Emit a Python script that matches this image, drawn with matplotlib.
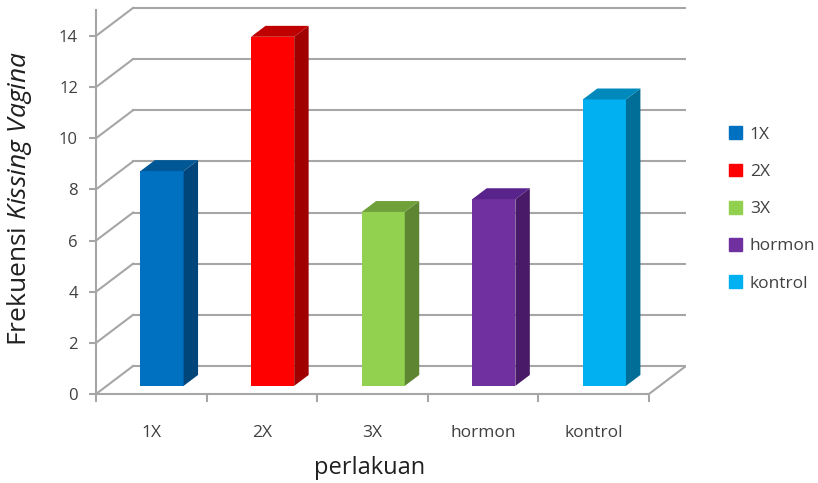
import matplotlib
matplotlib.use("Agg")
import matplotlib.pyplot as plt
from matplotlib.patches import Polygon, Patch
import numpy as np

plt.rcParams['font.family'] = ['Open Sans', 'DejaVu Sans']
plt.rcParams['mathtext.fontset'] = 'custom'
plt.rcParams['mathtext.rm'] = 'Open Sans'
plt.rcParams['mathtext.it'] = 'Open Sans:italic'

# data
categories = ['1X', '2X', '3X', 'hormon', 'kontrol']
values = [8.4, 13.65, 6.8, 7.3, 11.2]
front_colors = ['#0070C0', '#FF0000', '#92D050', '#7030A0', '#00B0F0']
side_colors = ['#00467A', '#A00000', '#5E8532', '#481A68', '#006E96']
top_colors = ['#005796', '#C00000', '#6FA03A', '#58238A', '#0089BC']
yticks = [0, 2, 4, 6, 8, 10, 12, 14]

# depth of the fake 3d box, in data units
D = 0.335
DY = 1.095
f0, f1 = 0.29, 0.68
bw = 0.39
grid_c = '#A6A6A6'
txt_c = '#404040'

fig = plt.figure(figsize=(8.18, 4.83), dpi=100)
ax = fig.add_axes([96/818, 89/483, 590/818, 389/483])
ax.set_xlim(-0.5, 4.5 + D)
ax.set_ylim(0, 15.21)

# back wall gridlines + side wall diagonals
for v in yticks:
    ax.plot([-0.5 + D, 4.5 + D], [v + DY, v + DY], color=grid_c, lw=1.5, zorder=1)
    ax.plot([-0.5, -0.5 + D], [v, v + DY], color=grid_c, lw=1.5, zorder=1)
# floor right edge
ax.plot([4.5, 4.5 + D], [0, DY], color=grid_c, lw=1.5, zorder=1)

x = np.arange(len(categories))
b = f0 * DY
dd = f1 - f0
ax.bar(x + f0 * D, values, width=bw, bottom=b, color=front_colors, zorder=3)
for i, v in enumerate(values):
    xl = x[i] + f0 * D - bw / 2
    xr = xl + bw
    side = [(xr, b), (xr + dd * D, b + dd * DY), (xr + dd * D, b + dd * DY + v), (xr, b + v)]
    top = [(xl, b + v), (xr, b + v), (xr + dd * D, b + v + dd * DY), (xl + dd * D, b + v + dd * DY)]
    ax.add_patch(Polygon(side, closed=True, color=side_colors[i], zorder=3, lw=0))
    ax.add_patch(Polygon(top, closed=True, color=top_colors[i], zorder=3, lw=0))

# axes styling
for s in ['top', 'right']:
    ax.spines[s].set_visible(False)
ax.spines['left'].set_bounds(0, 15.0)
ax.spines['bottom'].set_bounds(-0.5, 4.5)
for s in ['left', 'bottom']:
    ax.spines[s].set_color(grid_c)
    ax.spines[s].set_linewidth(1.5)

ax.set_yticks(yticks)
ax.tick_params(axis='y', length=5, width=1.5, color=grid_c, labelsize=12,
               labelcolor=txt_c, pad=8)
ax.set_xticks(x)
ax.set_xticklabels(categories)
ax.set_xticks(np.arange(-0.5, 5, 1), minor=True)
ax.tick_params(axis='x', which='major', length=0, labelsize=12.5, labelcolor=txt_c, pad=22)
ax.tick_params(axis='x', which='minor', length=6, width=1.5, color=grid_c)

ax.set_ylabel(r"Frekuensi $Kissing\ Vagina$", fontsize=19, color='#202020')
ax.yaxis.set_label_coords(-62/590, (394 - 198) / 389)
ax.set_xlabel("perlakuan", fontsize=17, color='#202020')
ax.xaxis.set_label_coords((370 - 96) / 590, -62/389)

handles = [Patch(color=c, label=l) for c, l in zip(front_colors, categories)]
fig.legend(handles=handles, loc='center left', bbox_to_anchor=(722/818, 1 - 209/483),
           frameon=False, handlelength=0.75, handleheight=0.75, handletextpad=0.45,
           labelspacing=1.2, fontsize=12.5, labelcolor=txt_c, borderaxespad=0)

fig.savefig("out.png", dpi=100)
